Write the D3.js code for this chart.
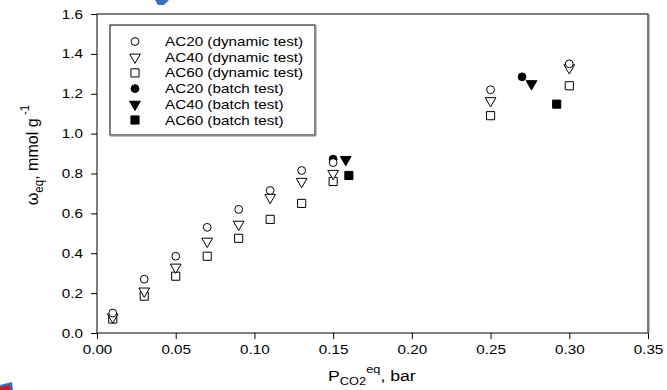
<!DOCTYPE html>
<html>
<head>
<meta charset="utf-8">
<script src="https://cdn.jsdelivr.net/npm/d3@7"></script>
<style>
  body { margin: 0; background: #fff; }
  text { font-family: "Liberation Sans", Arial, sans-serif; }
</style>
</head>
<body>
<svg id="chart" width="667" height="390"></svg>
<script>
// pressure values (bar)
const dynP = [0.01, 0.03, 0.05, 0.07, 0.09, 0.11, 0.13, 0.15, 0.25, 0.30]
const ac20Dyn = [0.10, 0.27, 0.385, 0.53, 0.62, 0.715, 0.815, 0.855, 1.22, 1.35]
const ac40Dyn = [0.08, 0.21, 0.33, 0.46, 0.545, 0.68, 0.76, 0.80, 1.165, 1.33]
const ac60Dyn = [0.07, 0.185, 0.285, 0.385, 0.475, 0.57, 0.65, 0.76, 1.09, 1.24]

const ac20BatchP = [0.15, 0.27]
const ac20Batch = [0.872, 1.285]
const ac40BatchP = [0.158, 0.276]
const ac40Batch = [0.87, 1.25]
const ac60BatchP = [0.16, 0.292]
const ac60Batch = [0.79, 1.148]

const xTicks = [0, 0.05, 0.10, 0.15, 0.20, 0.25, 0.30, 0.35]
const yTicks = [0, 0.2, 0.4, 0.6, 0.8, 1.0, 1.2, 1.4, 1.6]

const legendLabels = ['AC20 (dynamic test)', 'AC40 (dynamic test)', 'AC60 (dynamic test)',
  'AC20 (batch test)', 'AC40 (batch test)', 'AC60 (batch test)']

const margin = {top: 14, right: 19, bottom: 57, left: 97}
const width = 667 - margin.left - margin.right
const height = 390 - margin.top - margin.bottom
const fs = 12.5      // text size
const sx = 1.22      // the original figure is stretched sideways

const svg = d3.select('#chart')

// leftover bits of the page the figure was cut from
svg.append('path')
    .attr('d', 'M155,0 L169,0 L164,5 L158,5 Z')
    .attr('fill', '#3b6fb6')
svg.append('path')
    .attr('d', 'M0,385 L12,382 L13,390 L0,390 Z')
    .attr('fill', '#3b6fb6')
svg.append('path')
    .attr('d', 'M0,387 L10,385 L10,390 L0,390 Z')
    .attr('fill', '#c8202a')

const g = svg.append('g')
    .attr('transform', 'translate(' + margin.left + ',' + margin.top + ')')

const x = d3.scaleLinear().domain([0, 0.35]).range([0, width])
const y = d3.scaleLinear().domain([0, 1.6]).range([height, 0])

// frame
g.append('rect')
    .attr('width', width)
    .attr('height', height)
    .attr('fill', 'none')
    .attr('stroke', '#000')
    .attr('stroke-width', 1)
g.append('line')
    .attr('x1', width + 0.5).attr('x2', width + 0.5)
    .attr('y1', 0).attr('y2', height)
    .attr('stroke', '#777').attr('stroke-width', 2)

const xAxis = g.append('g')
    .attr('transform', 'translate(0,' + height + ')')
    .call(d3.axisBottom(x).tickValues(xTicks).tickFormat(d3.format('.2f')).tickSize(6).tickSizeOuter(0))
const yAxis = g.append('g')
    .call(d3.axisLeft(y).tickValues(yTicks).tickFormat(d3.format('.1f')).tickSize(6).tickSizeOuter(0))

for (const ax of [xAxis, yAxis]) {
  ax.select('.domain').remove()
  ax.selectAll('text')
      .attr('font-size', fs)
      .attr('font-family', '"Liberation Sans", Arial, sans-serif')
      .attr('fill', '#000')
      .attr('transform', 'scale(' + sx + ',1)')
}
xAxis.selectAll('text').attr('y', 10).attr('dy', '0.9em')
yAxis.selectAll('text').attr('x', -14 / sx)

// symbols
const circle = d3.symbol().type(d3.symbolCircle).size(48)
const square = d3.symbol().type(d3.symbolSquare).size(66)
const tri = d3.symbol().type(d3.symbolTriangle).size(50)

const series = [
  {px: dynP, py: ac20Dyn, sym: circle, fill: 'none', rot: 0},
  {px: dynP, py: ac40Dyn, sym: tri, fill: 'none', rot: 180},
  {px: dynP, py: ac60Dyn, sym: square, fill: 'none', rot: 0},
  {px: ac20BatchP, py: ac20Batch, sym: circle, fill: '#000', rot: 0},
  {px: ac40BatchP, py: ac40Batch, sym: tri, fill: '#000', rot: 180},
  {px: ac60BatchP, py: ac60Batch, sym: square, fill: '#000', rot: 0}
]

// draw in reverse so dynamic circles sit on top like in the original
series.slice().reverse().forEach(function (s) {
  g.append('g')
      .selectAll('path')
      .data(s.px.map((p, i) => [p, s.py[i]]))
      .enter()
      .append('path')
      .attr('d', s.sym)
      .attr('transform', d => 'translate(' + x(d[0]) + ',' + y(d[1]) + ') rotate(' + s.rot + ')')
      .attr('fill', s.fill === 'none' ? '#fff' : s.fill)
      .attr('stroke', '#000')
      .attr('stroke-width', 1)
})

// legend
const leg = g.append('g').attr('transform', 'translate(13,11)')
leg.append('rect')
    .attr('width', 205)
    .attr('height', 110)
    .attr('fill', '#fff')
    .attr('stroke', '#000')
    .attr('stroke-width', 1)
leg.append('line')
    .attr('x1', 205.5).attr('x2', 205.5).attr('y1', 0).attr('y2', 111)
    .attr('stroke', '#888').attr('stroke-width', 2)
leg.append('line')
    .attr('x1', 0).attr('x2', 206).attr('y1', 110.5).attr('y2', 110.5)
    .attr('stroke', '#888').attr('stroke-width', 2)

series.forEach(function (s, i) {
  const yy = 16.5 + i * 15.7
  leg.append('path')
      .attr('d', s.sym)
      .attr('transform', 'translate(25,' + yy + ') rotate(' + s.rot + ')')
      .attr('fill', s.fill === 'none' ? '#fff' : s.fill)
      .attr('stroke', '#000')
  leg.append('text')
      .attr('transform', 'translate(55,' + (yy + 4.5) + ') scale(' + sx + ',1)')
      .attr('font-size', fs)
      .text(legendLabels[i])
})

// axis titles
const xt = svg.append('text')
    .attr('transform', 'translate(328,381) scale(' + sx + ',1)')
    .attr('font-size', 14.5)
xt.append('tspan').text('P')
xt.append('tspan').attr('font-size', 10.5).attr('dy', 4).text('CO2')
xt.append('tspan').attr('font-size', 10.5).attr('dy', -12).text('eq')
xt.append('tspan').attr('dy', 8).text(', bar')

const yt = svg.append('text')
    .attr('transform', 'translate(38,155) rotate(-90) scale(1.15,' + sx + ')')
    .attr('text-anchor', 'middle')
    .attr('font-size', 14)
yt.append('tspan').text('ω')
yt.append('tspan').attr('font-size', 10).attr('dy', 4).text('eq')
yt.append('tspan').attr('dy', -4).text(', mmol g')
yt.append('tspan').attr('font-size', 10).attr('dy', -7).text('  -1')
</script>
</body>
</html>
